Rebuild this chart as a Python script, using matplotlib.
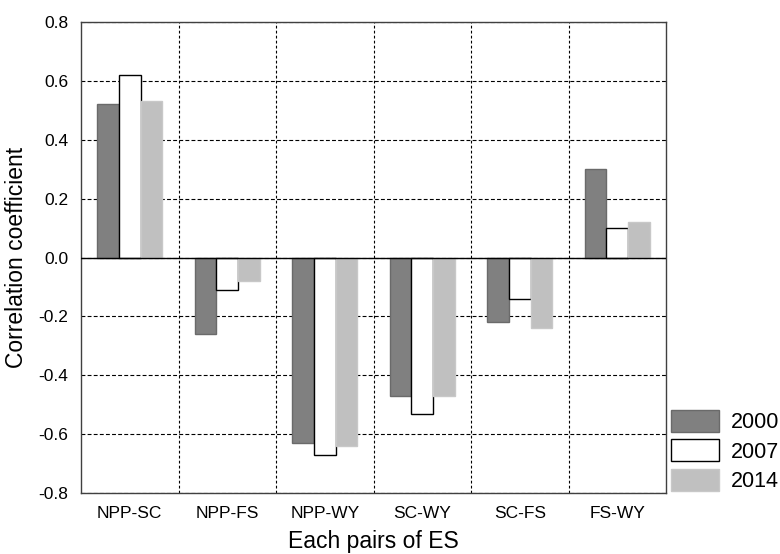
import numpy as np
import matplotlib as mpl
mpl.use('Agg')
import matplotlib.pyplot as plt
from matplotlib.ticker import FixedLocator

mpl.rcParams['font.family'] = ['Liberation Sans', 'DejaVu Sans']

pairs = ['NPP-SC', 'NPP-FS', 'NPP-WY', 'SC-WY', 'SC-FS', 'FS-WY']
years = ['2000', '2007', '2014']
r2000 = [0.52, -0.26, -0.63, -0.47, -0.22, 0.30]
r2007 = [0.62, -0.11, -0.67, -0.53, -0.14, 0.10]
r2014 = [0.53, -0.08, -0.64, -0.47, -0.24, 0.12]
yticks = [-0.8, -0.6, -0.4, -0.2, 0.0, 0.2, 0.4, 0.6, 0.8]

fig = plt.figure(figsize=(7.8, 5.54), dpi=100)
ax = fig.add_axes([81 / 780, 1 - 493 / 554, 585 / 780, 471 / 554])

x = np.arange(len(pairs))
w = 0.222
styles = [dict(color='#808080', edgecolor='#6a6a6a'),
          dict(color='white', edgecolor='black'),
          dict(color='#c0c0c0', edgecolor='#c8c8c8')]
for i, (vals, yr) in enumerate(zip([r2000, r2007, r2014], years)):
    ax.bar(x + (i - 1) * w, vals, w, label=yr, linewidth=1, zorder=3, **styles[i])

ax.axhline(0, color='black', linewidth=1, zorder=4)
ax.set_xlim(-0.5, len(pairs) - 0.5)
ax.set_ylim(-0.8, 0.8)
ax.set_xticks(x)
ax.set_xticklabels(pairs)
ax.xaxis.set_minor_locator(FixedLocator(x[:-1] + 0.5))
ax.set_yticks(yticks)
ax.set_yticklabels(['%.1f' % v for v in yticks])
ax.tick_params(axis='both', which='both', length=0, labelsize=12.5)
ax.tick_params(axis='x', pad=9)
ax.tick_params(axis='y', pad=9)

ax.grid(axis='y', which='major', color='black', linestyle=(0, (3.5, 2)), linewidth=0.8, zorder=1)
ax.grid(axis='x', which='minor', color='black', linestyle=(0, (2.5, 2)), linewidth=0.8, zorder=1)
for sp in ax.spines.values():
    sp.set_color('#404040')
    sp.set_linewidth(1)

ax.set_xlabel('Each pairs of ES', fontsize=16.5, labelpad=7)
ax.set_ylabel('Correlation coefficient', fontsize=16.5, labelpad=8)

ax.legend(loc='lower left', bbox_to_anchor=(1.0, -0.01), frameon=False, fontsize=15.5,
          handlelength=2.2, handleheight=1.2, handletextpad=0.55, labelspacing=0.3,
          borderaxespad=0.25, borderpad=0.0)

fig.savefig('out.png', dpi=100)
